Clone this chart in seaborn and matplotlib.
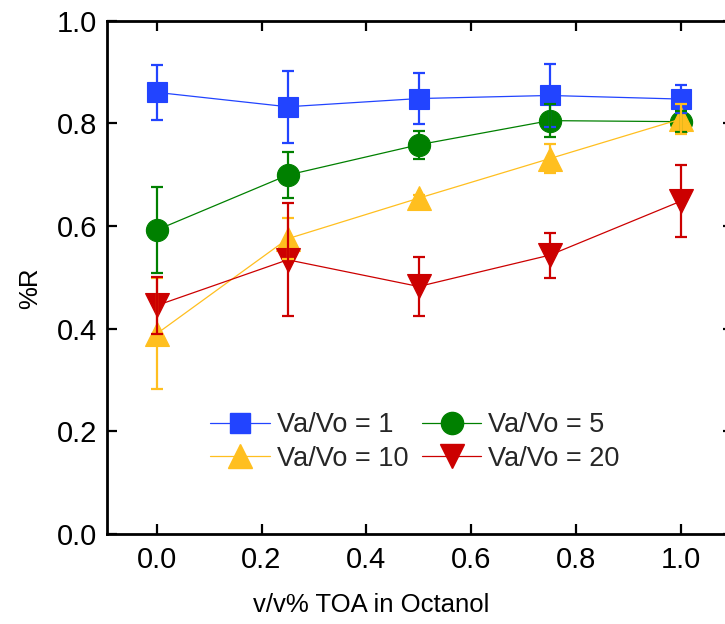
import matplotlib
matplotlib.use("Agg")
import matplotlib.pyplot as plt
import seaborn as sns
import pandas as pd
from matplotlib.lines import Line2D

# Volume fraction of TOA in octanol
toa = [0.0, 0.25, 0.5, 0.75, 1.0]

# Recovery (%R) and error for each aqueous/organic volume ratio
series_labels = ["Va/Vo = 1", "Va/Vo = 5", "Va/Vo = 10", "Va/Vo = 20"]
r_va1 = [0.860, 0.832, 0.848, 0.854, 0.847]
e_va1 = [0.054, 0.070, 0.050, 0.061, 0.027]
r_va5 = [0.592, 0.699, 0.758, 0.805, 0.803]
e_va5 = [0.084, 0.045, 0.027, 0.032, 0.020]
r_va10 = [0.390, 0.575, 0.654, 0.731, 0.808]
e_va10 = [0.108, 0.040, 0.006, 0.028, 0.030]
r_va20 = [0.445, 0.534, 0.482, 0.543, 0.648]
e_va20 = [0.055, 0.110, 0.057, 0.044, 0.070]

x_ticks = [0.0, 0.2, 0.4, 0.6, 0.8, 1.0]
y_ticks = [0.0, 0.2, 0.4, 0.6, 0.8, 1.0]

colors = ["#2244FF", "#008000", "#FFBF1F", "#CC0000"]
markers = ["s", "o", "^", "v"]
msizes = [14, 16, 17, 17]

values = [r_va1, r_va5, r_va10, r_va20]
errors = [e_va1, e_va5, e_va10, e_va20]

rows = []
for lab, vals, errs in zip(series_labels, values, errors):
    for x, v, e in zip(toa, vals, errs):
        rows.append({"toa": x, "R": v, "err": e, "ratio": lab})
df = pd.DataFrame(rows)

sns.set_theme(style="ticks")
plt.rcParams["font.family"] = ["Liberation Sans", "DejaVu Sans"]

fig = plt.figure(figsize=(7.25, 6.24), dpi=100)
ax = fig.add_axes([107 / 725, 90 / 624, 626 / 725, 513.5 / 624])

for lab, c, m, ms in zip(series_labels, colors, markers, msizes):
    sub = df[df["ratio"] == lab]
    sns.lineplot(data=sub, x="toa", y="R", color=c, marker=m, markersize=ms,
                 markeredgecolor=c, markeredgewidth=0.8, linewidth=0.9,
                 ax=ax, legend=False, zorder=3, errorbar=None)

for lab, c in zip(series_labels, colors):
    sub = df[df["ratio"] == lab]
    ax.errorbar(sub["toa"], sub["R"], yerr=sub["err"], fmt="none", ecolor=c,
                elinewidth=1.6, capsize=4.5, capthick=1.6, zorder=4)

ax.set_xlim(-0.095, 1.1)
ax.set_ylim(0.0, 1.0)
ax.set_xticks(x_ticks)
ax.set_yticks(y_ticks)
ax.set_xticklabels([f"{t:.1f}" for t in x_ticks])
ax.set_yticklabels([f"{t:.1f}" for t in y_ticks])

for sp in ax.spines.values():
    sp.set_visible(True)
    sp.set_linewidth(2.0)
    sp.set_color("black")

ax.tick_params(axis="both", which="major", direction="in", length=7.2,
               width=1.6, labelsize=21, color="black", labelcolor="black",
               top=True, right=True)
ax.tick_params(axis="x", pad=9)
ax.tick_params(axis="y", pad=7)

ax.set_xlabel("v/v% TOA in Octanol", fontsize=18.5, color="black")
ax.set_ylabel("%R", fontsize=18.5, color="black")
ax.xaxis.label.set_va("center")
ax.yaxis.label.set_va("center")
ax.xaxis.set_label_coords((371 - 107) / 626, (534 - 605) / 513.5)
ax.yaxis.set_label_coords((30 - 107) / 626, (534 - 288) / 513.5)

# Two-column legend filled row by row: (1, 5) on top, (10, 20) below
handles = [Line2D([0], [0], color=c, marker=m, markersize=ms, markeredgecolor=c,
                  linewidth=0.9)
           for c, m, ms in zip(colors, markers, msizes)]
order = [0, 2, 1, 3]
ax.legend([handles[i] for i in order], [series_labels[i] for i in order],
          ncol=2, frameon=False, fontsize=19.5,
          loc="center", bbox_to_anchor=(415 / 725, 1 - 442 / 624),
          bbox_transform=fig.transFigure, handlelength=2.2,
          handletextpad=0.26, columnspacing=0.5, labelspacing=0.27,
          borderpad=0.0)

ax.grid(False)
fig.savefig("out.png", dpi=100)
